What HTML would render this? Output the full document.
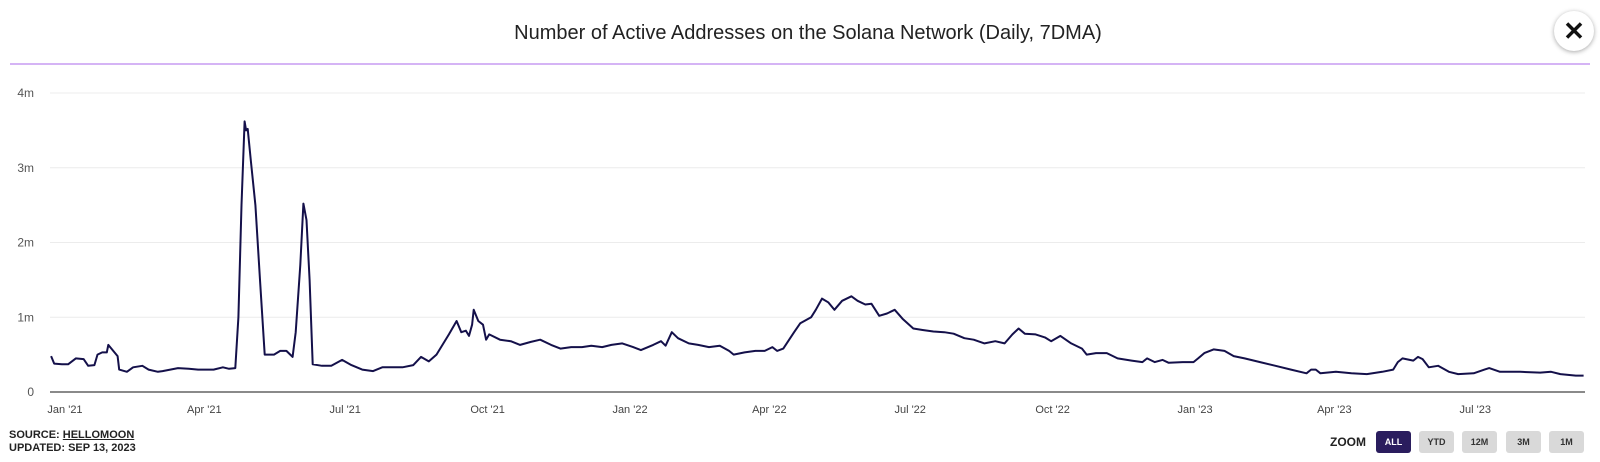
<!DOCTYPE html>
<html><head><meta charset="utf-8"><style>
body{margin:0;width:1600px;height:462px;background:#fff;font-family:"Liberation Sans",sans-serif;overflow:hidden;position:relative}
.title{position:absolute;left:0;width:1616px;top:22px;text-align:center;font-size:20px;color:#222}
.close{position:absolute;left:1554px;top:11px;width:40px;height:40px;border-radius:50%;background:#fff;box-shadow:0 1px 5px rgba(0,0,0,.35);text-align:center;line-height:40px;font-size:26px;font-weight:bold;color:#111}
.src{position:absolute;left:9px;top:429px;font-size:11px;font-weight:bold;color:#222;line-height:13px}
.src u{text-decoration:underline}
.zl{position:absolute;left:1330px;top:435px;font-size:12px;font-weight:bold;color:#222}
.btn{position:absolute;top:431px;width:35px;height:22px;border-radius:3px;background:#d9d9d9;color:#333;font-size:9px;font-weight:bold;text-align:center;line-height:22px}
.btn.on{background:#2a1d5e;color:#fff}
</style></head><body>
<div class="title">Number of Active Addresses on the Solana Network (Daily, 7DMA)</div>
<div class="close">✕</div>
<svg id="chart" width="1600" height="462" style="position:absolute;left:0;top:0">
<line x1="10" y1="64" x2="1590" y2="64" stroke="#c79cf2" stroke-width="1.5"/>
</svg>
<div class="src">SOURCE: <u>HELLOMOON</u><br>UPDATED: SEP 13, 2023</div>
<div class="zl">ZOOM</div>
<div class="btn on" style="left:1376px">ALL</div>
<div class="btn" style="left:1419px">YTD</div>
<div class="btn" style="left:1462px">12M</div>
<div class="btn" style="left:1506px">3M</div>
<div class="btn" style="left:1549px">1M</div>
<script>
const days=[-9,-7,-2,2,7,12,15,19,21,24,27,28,30,34,35,40,44,50,54,60,63,73,80,86,96,102,106,110,112,114,116,117,118,120,123,126,129,135,139,143,147,149,152,154,156,158,160,166,172,179,185,192,199,205,212,218,225,230,235,240,248,253,256,259,261,263,264,267,270,272,274,281,288,294,301,307,314,320,327,334,340,347,353,360,367,372,380,385,388,392,396,403,409,416,423,429,432,439,446,452,457,460,464,471,475,482,485,489,493,497,502,508,512,517,521,526,531,536,541,548,554,561,568,574,581,587,594,601,607,612,616,620,627,633,637,643,650,657,660,666,673,680,689,696,699,704,709,713,722,729,732,736,742,749,755,762,772,782,792,802,805,808,811,821,831,841,851,858,861,864,871,874,877,881,887,894,900,910,917,920,927,940,953,960,966,976,981];
const values=[0.48,0.38,0.37,0.37,0.45,0.44,0.35,0.36,0.5,0.53,0.53,0.63,0.58,0.48,0.3,0.27,0.33,0.35,0.3,0.27,0.28,0.32,0.31,0.3,0.3,0.33,0.31,0.32,1.0,2.5,3.62,3.5,3.52,3.1,2.5,1.5,0.5,0.5,0.55,0.55,0.47,0.8,1.7,2.52,2.3,1.5,0.37,0.35,0.35,0.43,0.36,0.3,0.28,0.33,0.33,0.33,0.36,0.47,0.41,0.5,0.77,0.95,0.8,0.82,0.75,0.9,1.1,0.95,0.9,0.7,0.77,0.7,0.68,0.63,0.67,0.7,0.63,0.58,0.6,0.6,0.62,0.6,0.63,0.65,0.6,0.56,0.63,0.68,0.62,0.8,0.72,0.65,0.63,0.6,0.62,0.55,0.5,0.53,0.55,0.55,0.6,0.55,0.58,0.8,0.92,1.0,1.1,1.25,1.2,1.1,1.22,1.28,1.22,1.17,1.18,1.02,1.05,1.1,0.98,0.85,0.83,0.81,0.8,0.78,0.72,0.7,0.65,0.68,0.65,0.77,0.85,0.78,0.77,0.73,0.68,0.75,0.65,0.58,0.5,0.52,0.52,0.45,0.42,0.4,0.45,0.4,0.43,0.39,0.4,0.4,0.45,0.52,0.57,0.55,0.48,0.45,0.4,0.35,0.3,0.25,0.3,0.3,0.25,0.27,0.25,0.24,0.27,0.3,0.4,0.45,0.42,0.47,0.44,0.33,0.35,0.27,0.24,0.25,0.3,0.32,0.27,0.27,0.26,0.27,0.24,0.22,0.22];
const yTicks=[0,1,2,3,4];
const yTickLabels=["0","1m","2m","3m","4m"];
const xTickDays=[0,90,181,273,365,455,546,638,730,820,911];
const xTickLabels=["Jan '21","Apr '21","Jul '21","Oct '21","Jan '22","Apr '22","Jul '22","Oct '22","Jan '23","Apr '23","Jul '23"];
const svg=document.getElementById('chart');const NS='http://www.w3.org/2000/svg';
const X=d=>65+d*1.548, Y=v=>392-v*74.75;
const L=50,R=1585;
function mk(t,a){const e=document.createElementNS(NS,t);for(const k in a)e.setAttribute(k,a[k]);svg.appendChild(e);return e;}
yTicks.forEach((v,i)=>{
 if(v>0){const g=mk('line',{x1:L,x2:R,y1:Y(v),y2:Y(v),stroke:'#ececec','stroke-width':1});
 
 }
 const t=mk('text',{x:34,y:Y(v)+4,'text-anchor':'end','font-size':12,fill:'#555','font-family':'Liberation Sans, sans-serif'});
 t.textContent=yTickLabels[i];
 
 
});
const ax=mk('line',{x1:L,x2:R,y1:Y(0),y2:Y(0),stroke:'#444','stroke-width':1.3});


xTickDays.forEach((d,i)=>{
 const t=mk('text',{x:X(d),y:413,'text-anchor':'middle','font-size':11,fill:'#444','font-family':'Liberation Sans, sans-serif'});
 t.textContent=xTickLabels[i];
 
 
});
const p=mk('path',{d:days.map((d,i)=>(i?'L':'M')+X(d).toFixed(1)+','+Y(values[i]).toFixed(1)).join(''),fill:'none',stroke:'#14104a','stroke-width':2,'stroke-linejoin':'round'});


</script>
</body></html>
